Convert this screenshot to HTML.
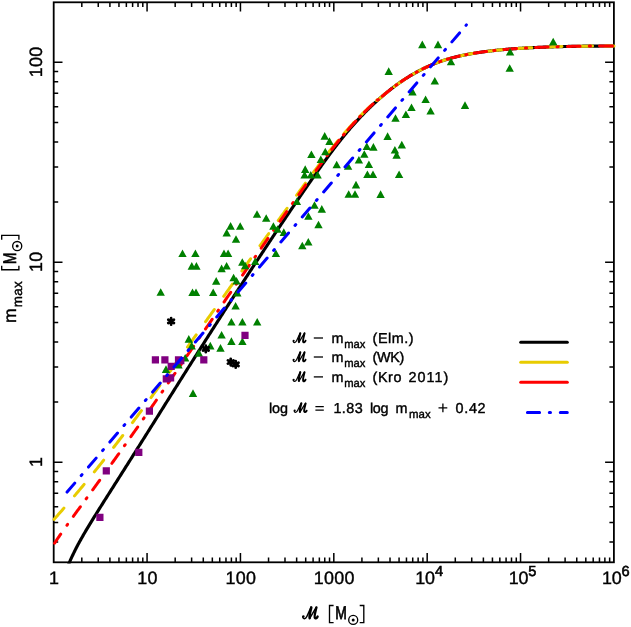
<!DOCTYPE html>
<html><head><meta charset="utf-8"><title>m_max - M_ecl relation</title>
<style>
html,body{margin:0;padding:0;background:#fff;}
body{width:631px;height:627px;overflow:hidden;position:relative;font-family:"Liberation Sans",sans-serif;}
svg{will-change:transform;} text{text-rendering:geometricPrecision;}
</style></head><body>
<svg width="631" height="627" viewBox="0 0 631 627" style="position:absolute;left:0;top:0">
<rect x="0" y="0" width="631" height="627" fill="#fff"/>
<defs><clipPath id="cp"><rect x="52.8" y="1.4" width="562.0" height="562.0"/></clipPath></defs>
<path d="M81.81,562.30 v-4.70 M81.81,2.30 v4.70 M98.25,562.30 v-4.70 M98.25,2.30 v4.70 M109.91,562.30 v-4.70 M109.91,2.30 v4.70 M118.96,562.30 v-4.70 M118.96,2.30 v4.70 M126.36,562.30 v-4.70 M126.36,2.30 v4.70 M132.61,562.30 v-4.70 M132.61,2.30 v4.70 M138.02,562.30 v-4.70 M138.02,2.30 v4.70 M142.80,562.30 v-4.70 M142.80,2.30 v4.70 M147.07,562.30 v-9.30 M147.07,2.30 v9.30 M175.18,562.30 v-4.70 M175.18,2.30 v4.70 M191.62,562.30 v-4.70 M191.62,2.30 v4.70 M203.28,562.30 v-4.70 M203.28,2.30 v4.70 M212.33,562.30 v-4.70 M212.33,2.30 v4.70 M219.73,562.30 v-4.70 M219.73,2.30 v4.70 M225.98,562.30 v-4.70 M225.98,2.30 v4.70 M231.39,562.30 v-4.70 M231.39,2.30 v4.70 M236.17,562.30 v-4.70 M236.17,2.30 v4.70 M240.44,562.30 v-9.30 M240.44,2.30 v9.30 M268.55,562.30 v-4.70 M268.55,2.30 v4.70 M284.99,562.30 v-4.70 M284.99,2.30 v4.70 M296.65,562.30 v-4.70 M296.65,2.30 v4.70 M305.70,562.30 v-4.70 M305.70,2.30 v4.70 M313.10,562.30 v-4.70 M313.10,2.30 v4.70 M319.35,562.30 v-4.70 M319.35,2.30 v4.70 M324.76,562.30 v-4.70 M324.76,2.30 v4.70 M329.54,562.30 v-4.70 M329.54,2.30 v4.70 M333.81,562.30 v-9.30 M333.81,2.30 v9.30 M361.92,562.30 v-4.70 M361.92,2.30 v4.70 M378.36,562.30 v-4.70 M378.36,2.30 v4.70 M390.02,562.30 v-4.70 M390.02,2.30 v4.70 M399.07,562.30 v-4.70 M399.07,2.30 v4.70 M406.47,562.30 v-4.70 M406.47,2.30 v4.70 M412.72,562.30 v-4.70 M412.72,2.30 v4.70 M418.13,562.30 v-4.70 M418.13,2.30 v4.70 M422.91,562.30 v-4.70 M422.91,2.30 v4.70 M427.18,562.30 v-9.30 M427.18,2.30 v9.30 M455.29,562.30 v-4.70 M455.29,2.30 v4.70 M471.73,562.30 v-4.70 M471.73,2.30 v4.70 M483.39,562.30 v-4.70 M483.39,2.30 v4.70 M492.44,562.30 v-4.70 M492.44,2.30 v4.70 M499.84,562.30 v-4.70 M499.84,2.30 v4.70 M506.09,562.30 v-4.70 M506.09,2.30 v4.70 M511.50,562.30 v-4.70 M511.50,2.30 v4.70 M516.28,562.30 v-4.70 M516.28,2.30 v4.70 M520.55,562.30 v-9.30 M520.55,2.30 v9.30 M548.66,562.30 v-4.70 M548.66,2.30 v4.70 M565.10,562.30 v-4.70 M565.10,2.30 v4.70 M576.76,562.30 v-4.70 M576.76,2.30 v4.70 M585.81,562.30 v-4.70 M585.81,2.30 v4.70 M593.21,562.30 v-4.70 M593.21,2.30 v4.70 M599.46,562.30 v-4.70 M599.46,2.30 v4.70 M604.87,562.30 v-4.70 M604.87,2.30 v4.70 M609.65,562.30 v-4.70 M609.65,2.30 v4.70 M53.70,541.89 h4.50 M613.90,541.89 h-4.50 M53.70,522.51 h4.50 M613.90,522.51 h-4.50 M53.70,506.67 h4.50 M613.90,506.67 h-4.50 M53.70,493.28 h4.50 M613.90,493.28 h-4.50 M53.70,481.68 h4.50 M613.90,481.68 h-4.50 M53.70,471.45 h4.50 M613.90,471.45 h-4.50 M53.70,462.30 h8.80 M613.90,462.30 h-8.80 M53.70,402.09 h4.50 M613.90,402.09 h-4.50 M53.70,366.88 h4.50 M613.90,366.88 h-4.50 M53.70,341.89 h4.50 M613.90,341.89 h-4.50 M53.70,322.51 h4.50 M613.90,322.51 h-4.50 M53.70,306.67 h4.50 M613.90,306.67 h-4.50 M53.70,293.28 h4.50 M613.90,293.28 h-4.50 M53.70,281.68 h4.50 M613.90,281.68 h-4.50 M53.70,271.45 h4.50 M613.90,271.45 h-4.50 M53.70,262.30 h8.80 M613.90,262.30 h-8.80 M53.70,202.09 h4.50 M613.90,202.09 h-4.50 M53.70,166.88 h4.50 M613.90,166.88 h-4.50 M53.70,141.89 h4.50 M613.90,141.89 h-4.50 M53.70,122.51 h4.50 M613.90,122.51 h-4.50 M53.70,106.67 h4.50 M613.90,106.67 h-4.50 M53.70,93.28 h4.50 M613.90,93.28 h-4.50 M53.70,81.68 h4.50 M613.90,81.68 h-4.50 M53.70,71.45 h4.50 M613.90,71.45 h-4.50 M53.70,62.30 h8.80 M613.90,62.30 h-8.80" stroke="#000" stroke-width="1.5" fill="none"/>
<rect x="53.70" y="2.30" width="560.20" height="560.00" fill="none" stroke="#000" stroke-width="1.8"/>
<g fill="none" stroke-linecap="round" stroke-linejoin="round">
<path d="M68.00,565.94 L68.46,564.81 L68.91,563.70 L69.37,562.61 L69.82,561.54 L70.28,560.49 L70.73,559.46 L71.19,558.44 L71.64,557.43 L72.10,556.44 L72.55,555.47 L73.01,554.50 L73.46,553.55 L73.92,552.61 L74.38,551.69 L74.83,550.77 L75.29,549.86 L75.74,548.97 L76.20,548.08 L76.65,547.20 L77.11,546.33 L77.56,545.47 L78.02,544.61 L78.47,543.77 L78.93,542.92 L79.38,542.09 L79.84,541.26 L80.30,540.44 L80.75,539.62 L81.21,538.81 L81.66,538.00 L82.12,537.20 L82.57,536.40 L83.03,535.61 L83.48,534.82 L83.94,534.03 L84.39,533.25 L84.85,532.47 L85.30,531.70 L85.76,530.93 L86.22,530.16 L86.67,529.39 L87.13,528.63 L87.58,527.87 L88.04,527.11 L88.49,526.35 L88.95,525.60 L89.40,524.85 L89.86,524.10 L90.31,523.35 L90.77,522.60 L91.22,521.86 L91.68,521.12 L92.14,520.38 L92.59,519.64 L93.05,518.90 L93.50,518.16 L93.96,517.42 L94.41,516.69 L94.87,515.96 L95.32,515.22 L95.78,514.49 L96.23,513.76 L96.69,513.03 L97.14,512.30 L97.60,511.57 L98.06,510.85 L98.51,510.12 L98.97,509.39 L99.42,508.67 L99.88,507.94 L100.33,507.22 L100.79,506.50 L101.24,505.77 L101.70,505.05 L102.15,504.33 L102.61,503.61 L103.06,502.88 L103.52,502.16 L103.97,501.44 L104.43,500.72 L104.89,500.00 L105.34,499.28 L105.80,498.56 L106.25,497.84 L106.71,497.12 L107.16,496.40 L107.62,495.69 L108.07,494.97 L108.53,494.25 L108.98,493.53 L109.44,492.81 L109.89,492.09 L110.35,491.37 L110.81,490.66 L111.26,489.94 L111.72,489.22 L112.17,488.50 L112.63,487.78 L113.08,487.06 L113.54,486.35 L113.99,485.63 L114.45,484.91 L114.90,484.19 L115.36,483.47 L115.81,482.75 L116.27,482.04 L116.73,481.32 L117.18,480.60 L117.64,479.88 L118.09,479.16 L118.55,478.44 L119.00,477.72 L119.46,477.01 L119.91,476.29 L120.37,475.57 L120.82,474.85 L121.28,474.13 L121.73,473.41 L122.19,472.69 L122.65,471.97 L123.10,471.25 L123.56,470.54 L124.01,469.82 L124.47,469.10 L124.92,468.38 L125.38,467.66 L125.83,466.94 L126.29,466.22 L126.74,465.50 L127.20,464.78 L127.65,464.06 L128.11,463.34 L128.57,462.62 L129.02,461.90 L129.48,461.18 L129.93,460.46 L130.39,459.74 L130.84,459.01 L131.30,458.29 L131.75,457.57 L132.21,456.85 L132.66,456.13 L133.12,455.41 L133.57,454.69 L134.03,453.96 L134.49,453.24 L134.94,452.52 L135.40,451.80 L135.85,451.08 L136.31,450.35 L136.76,449.63 L137.22,448.91 L137.67,448.19 L138.13,447.46 L138.58,446.74 L139.04,446.02 L139.49,445.29 L139.95,444.57 L140.41,443.85 L140.86,443.12 L141.32,442.40 L141.77,441.68 L142.23,440.95 L142.68,440.23 L143.14,439.50 L143.59,438.78 L144.05,438.06 L144.50,437.33 L144.96,436.61 L145.41,435.88 L145.87,435.16 L146.33,434.43 L146.78,433.71 L147.24,432.98 L147.69,432.26 L148.15,431.53 L148.60,430.81 L149.06,430.08 L149.51,429.36 L149.97,428.63 L150.42,427.90 L150.88,427.18 L151.33,426.45 L151.79,425.73 L152.25,425.00 L152.70,424.27 L153.16,423.55 L153.61,422.82 L154.07,422.10 L154.52,421.37 L154.98,420.64 L155.43,419.92 L155.89,419.19 L156.34,418.46 L156.80,417.74 L157.25,417.01 L157.71,416.29 L158.17,415.56 L158.62,414.83 L159.08,414.11 L159.53,413.38 L159.99,412.65 L160.44,411.93 L160.90,411.20 L161.35,410.47 L161.81,409.75 L162.26,409.02 L162.72,408.29 L163.17,407.57 L163.63,406.84 L164.09,406.11 L164.54,405.39 L165.00,404.66 L165.45,403.93 L165.91,403.21 L166.36,402.48 L166.82,401.76 L167.27,401.03 L167.73,400.30 L168.18,399.58 L168.64,398.85 L169.09,398.13 L169.55,397.40 L170.01,396.67 L170.46,395.95 L170.92,395.22 L171.37,394.50 L171.83,393.77 L172.28,393.05 L172.74,392.32 L173.19,391.60 L173.65,390.87 L174.10,390.15 L174.56,389.42 L175.01,388.70 L175.47,387.97 L175.92,387.25 L176.38,386.52 L176.84,385.80 L177.29,385.07 L177.75,384.35 L178.20,383.63 L178.66,382.90 L179.11,382.18 L179.57,381.46 L180.02,380.73 L180.48,380.01 L180.93,379.29 L181.39,378.56 L181.84,377.84 L182.30,377.12 L182.76,376.39 L183.21,375.67 L183.67,374.95 L184.12,374.23 L184.58,373.50 L185.03,372.78 L185.49,372.06 L185.94,371.34 L186.40,370.62 L186.85,369.89 L187.31,369.17 L187.76,368.45 L188.22,367.73 L188.68,367.01 L189.13,366.29 L189.59,365.57 L190.04,364.85 L190.50,364.13 L190.95,363.41 L191.41,362.69 L191.86,361.97 L192.32,361.25 L192.77,360.53 L193.23,359.81 L193.68,359.09 L194.14,358.37 L194.60,357.65 L195.05,356.93 L195.51,356.21 L195.96,355.49 L196.42,354.77 L196.87,354.06 L197.33,353.34 L197.78,352.62 L198.24,351.90 L198.69,351.18 L199.15,350.47 L199.60,349.75 L200.06,349.03 L200.52,348.31 L200.97,347.60 L201.43,346.88 L201.88,346.16 L202.34,345.45 L202.79,344.73 L203.25,344.01 L203.70,343.30 L204.16,342.58 L204.61,341.86 L205.07,341.15 L205.52,340.43 L205.98,339.72 L206.44,339.00 L206.89,338.28 L207.35,337.57 L207.80,336.85 L208.26,336.14 L208.71,335.43 L209.17,334.71 L209.62,334.00 L210.08,333.28 L210.53,332.57 L210.99,331.85 L211.44,331.14 L211.90,330.43 L212.36,329.71 L212.81,329.00 L213.27,328.29 L213.72,327.57 L214.18,326.86 L214.63,326.15 L215.09,325.44 L215.54,324.72 L216.00,324.01 L216.45,323.30 L216.91,322.59 L217.36,321.88 L217.82,321.17 L218.28,320.45 L218.73,319.74 L219.19,319.03 L219.64,318.32 L220.10,317.61 L220.55,316.90 L221.01,316.19 L221.46,315.48 L221.92,314.77 L222.37,314.06 L222.83,313.35 L223.28,312.64 L223.74,311.93 L224.20,311.23 L224.65,310.52 L225.11,309.81 L225.56,309.10 L226.02,308.39 L226.47,307.69 L226.93,306.98 L227.38,306.27 L227.84,305.56 L228.29,304.86 L228.75,304.15 L229.20,303.44 L229.66,302.74 L230.12,302.03 L230.57,301.32 L231.03,300.62 L231.48,299.91 L231.94,299.21 L232.39,298.50 L232.85,297.80 L233.30,297.09 L233.76,296.39 L234.21,295.68 L234.67,294.98 L235.12,294.28 L235.58,293.57 L236.04,292.87 L236.49,292.17 L236.95,291.46 L237.40,290.76 L237.86,290.06 L238.31,289.36 L238.77,288.65 L239.22,287.95 L239.68,287.25 L240.13,286.55 L240.59,285.85 L241.04,285.15 L241.50,284.45 L241.95,283.75 L242.41,283.04 L242.87,282.34 L243.32,281.64 L243.78,280.95 L244.23,280.25 L244.69,279.55 L245.14,278.85 L245.60,278.15 L246.05,277.45 L246.51,276.75 L246.96,276.05 L247.42,275.36 L247.87,274.66 L248.33,273.96 L248.79,273.26 L249.24,272.57 L249.70,271.87 L250.15,271.17 L250.61,270.48 L251.06,269.78 L251.52,269.08 L251.97,268.39 L252.43,267.69 L252.88,267.00 L253.34,266.30 L253.79,265.61 L254.25,264.91 L254.71,264.22 L255.16,263.53 L255.62,262.83 L256.07,262.14 L256.53,261.45 L256.98,260.75 L257.44,260.06 L257.89,259.37 L258.35,258.68 L258.80,257.98 L259.26,257.29 L259.71,256.60 L260.17,255.91 L260.63,255.22 L261.08,254.53 L261.54,253.84 L261.99,253.15 L262.45,252.46 L262.90,251.77 L263.36,251.08 L263.81,250.39 L264.27,249.70 L264.72,249.01 L265.18,248.32 L265.63,247.64 L266.09,246.95 L266.55,246.26 L267.00,245.57 L267.46,244.89 L267.91,244.20 L268.37,243.51 L268.82,242.83 L269.28,242.14 L269.73,241.46 L270.19,240.77 L270.64,240.09 L271.10,239.40 L271.55,238.72 L272.01,238.03 L272.47,237.35 L272.92,236.67 L273.38,235.98 L273.83,235.30 L274.29,234.62 L274.74,233.94 L275.20,233.25 L275.65,232.57 L276.11,231.89 L276.56,231.21 L277.02,230.53 L277.47,229.85 L277.93,229.17 L278.39,228.49 L278.84,227.81 L279.30,227.13 L279.75,226.45 L280.21,225.77 L280.66,225.09 L281.12,224.41 L281.57,223.74 L282.03,223.06 L282.48,222.38 L282.94,221.70 L283.39,221.03 L283.85,220.35 L284.31,219.67 L284.76,219.00 L285.22,218.32 L285.67,217.65 L286.13,216.97 L286.58,216.30 L287.04,215.62 L287.49,214.95 L287.95,214.28 L288.40,213.60 L288.86,212.93 L289.31,212.26 L289.77,211.59 L290.23,210.91 L290.68,210.24 L291.14,209.57 L291.59,208.90 L292.05,208.23 L292.50,207.56 L292.96,206.89 L293.41,206.22 L293.87,205.55 L294.32,204.88 L294.78,204.21 L295.23,203.54 L295.69,202.87 L296.15,202.20 L296.60,201.53 L297.06,200.87 L297.51,200.20 L297.97,199.53 L298.42,198.86 L298.88,198.20 L299.33,197.53 L299.79,196.86 L300.24,196.20 L300.70,195.53 L301.15,194.87 L301.61,194.20 L302.07,193.54 L302.52,192.87 L302.98,192.21 L303.43,191.55 L303.89,190.88 L304.34,190.22 L304.80,189.56 L305.25,188.89 L305.71,188.23 L306.16,187.57 L306.62,186.91 L307.07,186.25 L307.53,185.59 L307.98,184.93 L308.44,184.27 L308.90,183.61 L309.35,182.95 L309.81,182.29 L310.26,181.64 L310.72,180.98 L311.17,180.32 L311.63,179.67 L312.08,179.01 L312.54,178.36 L312.99,177.70 L313.45,177.05 L313.90,176.40 L314.36,175.75 L314.82,175.09 L315.27,174.44 L315.73,173.79 L316.18,173.14 L316.64,172.50 L317.09,171.85 L317.55,171.20 L318.00,170.56 L318.46,169.91 L318.91,169.27 L319.37,168.63 L319.82,167.99 L320.28,167.34 L320.74,166.71 L321.19,166.07 L321.65,165.43 L322.10,164.79 L322.56,164.16 L323.01,163.52 L323.47,162.89 L323.92,162.26 L324.38,161.63 L324.83,161.00 L325.29,160.37 L325.74,159.74 L326.20,159.11 L326.66,158.49 L327.11,157.87 L327.57,157.24 L328.02,156.62 L328.48,156.00 L328.93,155.38 L329.39,154.76 L329.84,154.15 L330.30,153.53 L330.75,152.92 L331.21,152.31 L331.66,151.70 L332.12,151.09 L332.58,150.48 L333.03,149.87 L333.49,149.27 L333.94,148.67 L334.40,148.06 L334.85,147.47 L335.31,146.87 L335.76,146.27 L336.22,145.68 L336.67,145.09 L337.13,144.50 L337.58,143.91 L338.04,143.32 L338.50,142.74 L338.95,142.16 L339.41,141.58 L339.86,141.00 L340.32,140.43 L340.77,139.85 L341.23,139.28 L341.68,138.71 L342.14,138.15 L342.59,137.58 L343.05,137.02 L343.50,136.46 L343.96,135.90 L344.42,135.34 L344.87,134.79 L345.33,134.24 L345.78,133.69 L346.24,133.14 L346.69,132.60 L347.15,132.06 L347.60,131.52 L348.06,130.98 L348.51,130.44 L348.97,129.91 L349.42,129.37 L349.88,128.84 L350.34,128.32 L350.79,127.79 L351.25,127.27 L351.70,126.74 L352.16,126.22 L352.61,125.70 L353.07,125.19 L353.52,124.67 L353.98,124.16 L354.43,123.65 L354.89,123.14 L355.34,122.64 L355.80,122.13 L356.26,121.63 L356.71,121.13 L357.17,120.63 L357.62,120.14 L358.08,119.64 L358.53,119.15 L358.99,118.66 L359.44,118.18 L359.90,117.69 L360.35,117.21 L360.81,116.72 L361.26,116.25 L361.72,115.77 L362.18,115.29 L362.63,114.82 L363.09,114.35 L363.54,113.88 L364.00,113.41 L364.45,112.95 L364.91,112.48 L365.36,112.02 L365.82,111.56 L366.27,111.10 L366.73,110.65 L367.18,110.19 L367.64,109.74 L368.10,109.29 L368.55,108.85 L369.01,108.40 L369.46,107.96 L369.92,107.52 L370.37,107.08 L370.83,106.64 L371.28,106.20 L371.74,105.77 L372.19,105.34 L372.65,104.91 L373.10,104.48 L373.56,104.05 L374.02,103.63 L374.47,103.20 L374.93,102.78 L375.38,102.36 L375.84,101.95 L376.29,101.53 L376.75,101.12 L377.20,100.71 L377.66,100.30 L378.11,99.89 L378.57,99.48 L379.02,99.08 L379.48,98.68 L379.93,98.27 L380.39,97.88 L380.85,97.48 L381.30,97.08 L381.76,96.69 L382.21,96.30 L382.67,95.91 L383.12,95.52 L383.58,95.13 L384.03,94.75 L384.49,94.37 L384.94,93.99 L385.40,93.61 L385.85,93.23 L386.31,92.86 L386.77,92.48 L387.22,92.11 L387.68,91.74 L388.13,91.37 L388.59,91.01 L389.04,90.64 L389.50,90.28 L389.95,89.92 L390.41,89.56 L390.86,89.21 L391.32,88.85 L391.77,88.50 L392.23,88.15 L392.69,87.80 L393.14,87.45 L393.60,87.11 L394.05,86.76 L394.51,86.42 L394.96,86.08 L395.42,85.74 L395.87,85.41 L396.33,85.07 L396.78,84.74 L397.24,84.41 L397.69,84.08 L398.15,83.76 L398.61,83.43 L399.06,83.11 L399.52,82.79 L399.97,82.47 L400.43,82.15 L400.88,81.84 L401.34,81.52 L401.79,81.21 L402.25,80.90 L402.70,80.60 L403.16,80.29 L403.61,79.99 L404.07,79.69 L404.53,79.39 L404.98,79.09 L405.44,78.79 L405.89,78.50 L406.35,78.21 L406.80,77.92 L407.26,77.63 L407.71,77.34 L408.17,77.06 L408.62,76.77 L409.08,76.49 L409.53,76.21 L409.99,75.93 L410.45,75.66 L410.90,75.39 L411.36,75.11 L411.81,74.84 L412.27,74.58 L412.72,74.31 L413.18,74.04 L413.63,73.78 L414.09,73.52 L414.54,73.26 L415.00,73.01 L415.45,72.75 L415.91,72.50 L416.37,72.24 L416.82,72.00 L417.28,71.75 L417.73,71.50 L418.19,71.26 L418.64,71.01 L419.10,70.77 L419.55,70.53 L420.01,70.30 L420.46,70.06 L420.92,69.83 L421.37,69.60 L421.83,69.37 L422.29,69.14 L422.74,68.91 L423.20,68.69 L423.65,68.47 L424.11,68.25 L424.56,68.03 L425.02,67.81 L425.47,67.59 L425.93,67.38 L426.38,67.17 L426.84,66.96 L427.29,66.75 L427.75,66.54 L428.21,66.34 L428.66,66.13 L429.12,65.93 L429.57,65.73 L430.03,65.53 L430.48,65.34 L430.94,65.14 L431.39,64.95 L431.85,64.76 L432.30,64.57 L432.76,64.38 L433.21,64.19 L433.67,64.01 L434.13,63.82 L434.58,63.64 L435.04,63.46 L435.49,63.28 L435.95,63.11 L436.40,62.93 L436.86,62.76 L437.31,62.59 L437.77,62.42 L438.22,62.25 L438.68,62.08 L439.13,61.92 L439.59,61.76 L440.05,61.59 L440.50,61.44 L440.96,61.28 L441.41,61.12 L441.87,60.97 L442.32,60.81 L442.78,60.66 L443.23,60.51 L443.69,60.36 L444.14,60.21 L444.60,60.07 L445.05,59.92 L445.51,59.78 L445.96,59.64 L446.42,59.50 L446.88,59.36 L447.33,59.22 L447.79,59.09 L448.24,58.95 L448.70,58.82 L449.15,58.69 L449.61,58.56 L450.06,58.43 L450.52,58.30 L450.97,58.18 L451.43,58.05 L451.88,57.93 L452.34,57.81 L452.80,57.68 L453.25,57.56 L453.71,57.45 L454.16,57.33 L454.62,57.21 L455.07,57.10 L455.53,56.98 L455.98,56.87 L456.44,56.76 L456.89,56.65 L457.35,56.54 L457.80,56.43 L458.26,56.32 L458.72,56.22 L459.17,56.11 L459.63,56.01 L460.08,55.91 L460.54,55.81 L460.99,55.71 L461.45,55.61 L461.90,55.51 L462.36,55.41 L462.81,55.32 L463.27,55.22 L463.72,55.13 L464.18,55.04 L464.64,54.94 L465.09,54.85 L465.55,54.76 L466.00,54.67 L466.46,54.59 L466.91,54.50 L467.37,54.41 L467.82,54.33 L468.28,54.24 L468.73,54.16 L469.19,54.08 L469.64,54.00 L470.10,53.91 L470.56,53.83 L471.01,53.75 L471.47,53.67 L471.92,53.60 L472.38,53.52 L472.83,53.44 L473.29,53.37 L473.74,53.29 L474.20,53.22 L474.65,53.14 L475.11,53.07 L475.56,53.00 L476.02,52.92 L476.48,52.85 L476.93,52.78 L477.39,52.71 L477.84,52.64 L478.30,52.57 L478.75,52.51 L479.21,52.44 L479.66,52.37 L480.12,52.30 L480.57,52.24 L481.03,52.17 L481.48,52.11 L481.94,52.05 L482.40,51.98 L482.85,51.92 L483.31,51.86 L483.76,51.80 L484.22,51.73 L484.67,51.67 L485.13,51.61 L485.58,51.55 L486.04,51.50 L486.49,51.44 L486.95,51.38 L487.40,51.32 L487.86,51.27 L488.32,51.21 L488.77,51.15 L489.23,51.10 L489.68,51.04 L490.14,50.99 L490.59,50.93 L491.05,50.88 L491.50,50.83 L491.96,50.78 L492.41,50.72 L492.87,50.67 L493.32,50.62 L493.78,50.57 L494.24,50.52 L494.69,50.47 L495.15,50.42 L495.60,50.37 L496.06,50.32 L496.51,50.28 L496.97,50.23 L497.42,50.18 L497.88,50.14 L498.33,50.09 L498.79,50.04 L499.24,50.00 L499.70,49.95 L500.16,49.91 L500.61,49.86 L501.07,49.82 L501.52,49.78 L501.98,49.73 L502.43,49.69 L502.89,49.65 L503.34,49.61 L503.80,49.57 L504.25,49.53 L504.71,49.49 L505.16,49.45 L505.62,49.41 L506.08,49.37 L506.53,49.33 L506.99,49.29 L507.44,49.25 L507.90,49.21 L508.35,49.18 L508.81,49.14 L509.26,49.10 L509.72,49.07 L510.17,49.03 L510.63,48.99 L511.08,48.96 L511.54,48.92 L511.99,48.89 L512.45,48.86 L512.91,48.82 L513.36,48.79 L513.82,48.76 L514.27,48.72 L514.73,48.69 L515.18,48.66 L515.64,48.63 L516.09,48.59 L516.55,48.56 L517.00,48.53 L517.46,48.50 L517.91,48.47 L518.37,48.44 L518.83,48.41 L519.28,48.38 L519.74,48.35 L520.19,48.32 L520.65,48.30 L521.10,48.27 L521.56,48.24 L522.01,48.21 L522.47,48.18 L522.92,48.16 L523.38,48.13 L523.83,48.10 L524.29,48.08 L524.75,48.05 L525.20,48.02 L525.66,48.00 L526.11,47.97 L526.57,47.95 L527.02,47.92 L527.48,47.90 L527.93,47.87 L528.39,47.85 L528.84,47.83 L529.30,47.80 L529.75,47.78 L530.21,47.75 L530.67,47.73 L531.12,47.71 L531.58,47.69 L532.03,47.66 L532.49,47.64 L532.94,47.62 L533.40,47.60 L533.85,47.57 L534.31,47.55 L534.76,47.53 L535.22,47.51 L535.67,47.49 L536.13,47.47 L536.59,47.45 L537.04,47.43 L537.50,47.41 L537.95,47.39 L538.41,47.37 L538.86,47.35 L539.32,47.33 L539.77,47.31 L540.23,47.29 L540.68,47.27 L541.14,47.25 L541.59,47.24 L542.05,47.22 L542.51,47.20 L542.96,47.18 L543.42,47.16 L543.87,47.15 L544.33,47.13 L544.78,47.11 L545.24,47.09 L545.69,47.08 L546.15,47.06 L546.60,47.04 L547.06,47.03 L547.51,47.01 L547.97,47.00 L548.43,46.98 L548.88,46.97 L549.34,46.95 L549.79,46.93 L550.25,46.92 L550.70,46.90 L551.16,46.89 L551.61,46.87 L552.07,46.86 L552.52,46.85 L552.98,46.83 L553.43,46.82 L553.89,46.80 L554.35,46.79 L554.80,46.78 L555.26,46.76 L555.71,46.75 L556.17,46.74 L556.62,46.72 L557.08,46.71 L557.53,46.70 L557.99,46.69 L558.44,46.67 L558.90,46.66 L559.35,46.65 L559.81,46.64 L560.27,46.62 L560.72,46.61 L561.18,46.60 L561.63,46.59 L562.09,46.58 L562.54,46.57 L563.00,46.56 L563.45,46.54 L563.91,46.53 L564.36,46.52 L564.82,46.51 L565.27,46.50 L565.73,46.49 L566.19,46.48 L566.64,46.47 L567.10,46.46 L567.55,46.45 L568.01,46.44 L568.46,46.43 L568.92,46.42 L569.37,46.41 L569.83,46.40 L570.28,46.40 L570.74,46.39 L571.19,46.38 L571.65,46.37 L572.11,46.36 L572.56,46.35 L573.02,46.34 L573.47,46.34 L573.93,46.33 L574.38,46.32 L574.84,46.31 L575.29,46.30 L575.75,46.30 L576.20,46.29 L576.66,46.28 L577.11,46.27 L577.57,46.27 L578.03,46.26 L578.48,46.25 L578.94,46.25 L579.39,46.24 L579.85,46.23 L580.30,46.23 L580.76,46.22 L581.21,46.21 L581.67,46.21 L582.12,46.20 L582.58,46.19 L583.03,46.19 L583.49,46.18 L583.94,46.18 L584.40,46.17 L584.86,46.17 L585.31,46.16 L585.77,46.16 L586.22,46.15 L586.68,46.15 L587.13,46.14 L587.59,46.14 L588.04,46.13 L588.50,46.13 L588.95,46.12 L589.41,46.12 L589.86,46.11 L590.32,46.11 L590.78,46.11 L591.23,46.10 L591.69,46.10 L592.14,46.09 L592.60,46.09 L593.05,46.09 L593.51,46.08 L593.96,46.08 L594.42,46.08 L594.87,46.07 L595.33,46.07 L595.78,46.07 L596.24,46.06 L596.70,46.06 L597.15,46.06 L597.61,46.06 L598.06,46.05 L598.52,46.05 L598.97,46.05 L599.43,46.05 L599.88,46.04 L600.34,46.04 L600.79,46.04 L601.25,46.04 L601.70,46.04 L602.16,46.03 L602.62,46.03 L603.07,46.03 L603.53,46.03 L603.98,46.03 L604.44,46.03 L604.89,46.02 L605.35,46.02 L605.80,46.02 L606.26,46.02 L606.71,46.02 L607.17,46.02 L607.62,46.02 L608.08,46.02 L608.54,46.02 L608.99,46.02 L609.45,46.02 L609.90,46.01 L610.36,46.01 L610.81,46.01 L611.27,46.01 L611.72,46.01 L612.18,46.01 L612.63,46.01 L613.09,46.01 L613.54,46.01 L614.00,46.01" stroke="#000" stroke-width="3.15" stroke-linecap="butt" clip-path="url(#cp)"/>
<path d="M54.00,519.39 L54.75,518.55 L55.68,517.50 L56.62,516.45 L57.55,515.39 L58.47,514.34 L59.40,513.29 L60.33,512.24 L61.25,511.19 L62.17,510.14 L63.09,509.08 L63.92,508.13 M74.46,495.89 L74.87,495.41 L75.76,494.36 L76.65,493.31 L77.54,492.26 L78.42,491.21 L79.31,490.15 L80.19,489.10 L81.07,488.05 L81.94,487.00 L82.82,485.95 L83.69,484.90 L84.10,484.40 M94.32,471.89 L94.85,471.23 L95.70,470.17 L96.54,469.12 L97.39,468.07 L98.23,467.02 L99.06,465.97 L99.90,464.92 L100.74,463.86 L101.57,462.81 L102.40,461.76 L103.23,460.71 L103.67,460.16 M113.61,447.42 L113.91,447.04 L114.72,445.99 L115.53,444.93 L116.34,443.88 L117.15,442.83 L117.95,441.78 L118.76,440.73 L119.56,439.68 L120.37,438.62 L121.17,437.57 L121.97,436.52 L122.73,435.52 M132.47,422.62 L133.08,421.80 L133.87,420.75 L134.65,419.70 L135.44,418.64 L136.22,417.59 L137.01,416.54 L137.79,415.49 L138.57,414.44 L139.35,413.39 L140.13,412.33 L140.91,411.28 L141.42,410.59 M150.99,397.58 L151.73,396.56 L152.50,395.51 L153.27,394.46 L154.04,393.40 L154.80,392.35 L155.57,391.30 L156.34,390.25 L157.10,389.20 L157.87,388.15 L158.63,387.09 L159.40,386.04 L159.82,385.45 M169.29,372.36 L170.04,371.32 L170.80,370.27 L171.56,369.22 L172.32,368.17 L173.07,367.11 L173.83,366.06 L174.59,365.01 L175.34,363.96 L176.10,362.91 L176.85,361.86 L177.61,360.80 L178.05,360.19 M187.46,347.06 L188.16,346.08 L188.91,345.03 L189.67,343.98 L190.42,342.93 L191.17,341.87 L191.92,340.82 L192.67,339.77 L193.43,338.72 L194.18,337.67 L194.93,336.62 L195.68,335.56 L196.19,334.85 M205.58,321.71 L206.20,320.84 L206.95,319.79 L207.70,318.74 L208.45,317.69 L209.20,316.64 L209.95,315.58 L210.70,314.53 L211.46,313.48 L212.21,312.43 L212.96,311.38 L213.71,310.33 L214.30,309.50 M223.69,296.36 L224.23,295.60 L224.98,294.55 L225.73,293.50 L226.49,292.45 L227.24,291.40 L227.99,290.34 L228.74,289.29 L229.49,288.24 L230.25,287.19 L231.00,286.14 L231.75,285.09 L232.42,284.16 M241.82,271.02 L242.29,270.36 L243.05,269.31 L243.80,268.26 L244.55,267.21 L245.31,266.16 L246.06,265.11 L246.82,264.05 L247.57,263.00 L248.33,261.95 L249.08,260.90 L249.83,259.85 L250.56,258.83 M259.99,245.72 L260.42,245.12 L261.17,244.07 L261.93,243.02 L262.69,241.97 L263.45,240.92 L264.20,239.87 L264.96,238.82 L265.72,237.76 L266.48,236.71 L267.24,235.66 L268.00,234.61 L268.76,233.56 L268.76,233.55 M278.23,220.46 L278.65,219.89 L279.41,218.83 L280.17,217.78 L280.93,216.73 L281.70,215.68 L282.46,214.63 L283.23,213.58 L283.99,212.52 L284.75,211.47 L285.52,210.42 L286.28,209.37 L287.05,208.32 M296.56,195.27 L297.02,194.65 L297.78,193.59 L298.55,192.54 L299.32,191.49 L300.09,190.44 L300.86,189.39 L301.63,188.34 L302.40,187.29 L303.17,186.23 L303.95,185.18 L304.72,184.13 L305.43,183.17 M313.45,172.32 L314.05,171.51 L314.83,170.46 L315.62,169.41 L316.41,168.36 L317.20,167.30 L317.99,166.25 L318.78,165.20 L319.58,164.15 L320.37,163.10 L321.17,162.05 L321.97,160.99 L322.48,160.34 M328.64,152.35 L329.29,151.53 L330.11,150.48 L330.94,149.43 L331.77,148.37 L332.61,147.32 L333.45,146.27 L334.30,145.22 L335.15,144.17 L336.00,143.12 L336.86,142.07 L337.72,141.01 L338.03,140.65 M344.09,133.48 L344.85,132.60 L345.77,131.55 L346.69,130.50 L347.63,129.45 L348.56,128.39 L349.51,127.34 L350.46,126.29 L351.42,125.24 L352.39,124.19 L353.36,123.14 L354.12,122.32 M359.80,116.39 L360.40,115.77 L361.44,114.72 L362.49,113.67 L363.55,112.62 L364.62,111.57 L365.70,110.52 L366.79,109.46 L367.89,108.41 L369.00,107.36 L370.13,106.31 L370.54,105.92 M376.54,100.51 L377.12,100.00 L377.66,100.30 L378.11,99.89 L378.57,99.48 L379.02,99.08 L379.48,98.68 L379.93,98.27 L380.39,97.88 L380.85,97.48 L381.30,97.08 L381.76,96.69 L382.21,96.30 L382.67,95.91 L383.12,95.52 L383.58,95.13 L384.03,94.75 L384.49,94.37 L384.94,93.99 L385.40,93.61 L385.85,93.23 L386.31,92.86 L386.77,92.48 L387.22,92.11 L387.68,91.74 L388.02,91.47 M394.11,86.71 L394.51,86.42 L394.96,86.08 L395.42,85.74 L395.87,85.41 L396.33,85.07 L396.78,84.74 L397.24,84.41 L397.69,84.08 L398.15,83.76 L398.61,83.43 L399.06,83.11 L399.52,82.79 L399.97,82.47 L400.43,82.15 L400.88,81.84 L401.34,81.52 L401.79,81.21 L402.25,80.90 L402.70,80.60 L403.16,80.29 L403.61,79.99 L404.07,79.69 L404.53,79.39 L404.98,79.09 L405.44,78.79 L405.89,78.50 L406.35,78.21 L406.43,78.15 M413.50,73.86 L413.63,73.78 L414.09,73.52 L414.54,73.26 L415.00,73.01 L415.45,72.75 L415.91,72.50 L416.37,72.24 L416.82,72.00 L417.28,71.75 L417.73,71.50 L418.19,71.26 L418.64,71.01 L419.10,70.77 L419.55,70.53 L420.01,70.30 L420.46,70.06 L420.92,69.83 L421.37,69.60 L421.83,69.37 L422.29,69.14 L422.74,68.91 L423.20,68.69 L423.65,68.47 L424.11,68.25 L424.56,68.03 L425.02,67.81 L425.47,67.59 L425.93,67.38 L426.38,67.17 L426.81,66.97 M435.75,63.19 L435.95,63.11 L436.40,62.93 L436.86,62.76 L437.31,62.59 L437.77,62.42 L438.22,62.25 L438.68,62.08 L439.13,61.92 L439.59,61.76 L440.05,61.59 L440.50,61.44 L440.96,61.28 L441.41,61.12 L441.87,60.97 L442.32,60.81 L442.78,60.66 L443.23,60.51 L443.69,60.36 L444.14,60.21 L444.60,60.07 L445.05,59.92 L445.51,59.78 L445.96,59.64 L446.42,59.50 L446.88,59.36 L447.33,59.22 L447.79,59.09 L448.24,58.95 L448.70,58.82 L449.15,58.69 L449.61,58.56 L449.97,58.46 M460.45,55.83 L460.54,55.81 L460.99,55.71 L461.45,55.61 L461.90,55.51 L462.36,55.41 L462.81,55.32 L463.27,55.22 L463.72,55.13 L464.18,55.04 L464.64,54.94 L465.09,54.85 L465.55,54.76 L466.00,54.67 L466.46,54.59 L466.91,54.50 L467.37,54.41 L467.82,54.33 L468.28,54.24 L468.73,54.16 L469.19,54.08 L469.64,54.00 L470.10,53.91 L470.56,53.83 L471.01,53.75 L471.47,53.67 L471.92,53.60 L472.38,53.52 L472.83,53.44 L473.29,53.37 L473.74,53.29 L474.20,53.22 L474.65,53.14 L475.11,53.07 L475.19,53.06 M487.27,51.34 L487.40,51.32 L487.86,51.27 L488.32,51.21 L488.77,51.15 L489.23,51.10 L489.68,51.04 L490.14,50.99 L490.59,50.93 L491.05,50.88 L491.50,50.83 L491.96,50.78 L492.41,50.72 L492.87,50.67 L493.32,50.62 L493.78,50.57 L494.24,50.52 L494.69,50.47 L495.15,50.42 L495.60,50.37 L496.06,50.32 L496.51,50.28 L496.97,50.23 L497.42,50.18 L497.88,50.14 L498.33,50.09 L498.79,50.04 L499.24,50.00 L499.70,49.95 L500.16,49.91 L500.61,49.86 L501.07,49.82 L501.52,49.78 L501.98,49.73 L502.18,49.72 M516.84,48.54 L517.00,48.53 L517.46,48.50 L517.91,48.47 L518.37,48.44 L518.83,48.41 L519.28,48.38 L519.74,48.35 L520.19,48.32 L520.65,48.30 L521.10,48.27 L521.56,48.24 L522.01,48.21 L522.47,48.18 L522.92,48.16 L523.38,48.13 L523.83,48.10 L524.29,48.08 L524.75,48.05 L525.20,48.02 L525.66,48.00 L526.11,47.97 L526.57,47.95 L527.02,47.92 L527.48,47.90 L527.93,47.87 L528.39,47.85 L528.84,47.83 L529.30,47.80 L529.75,47.78 L530.21,47.75 L530.67,47.73 L531.12,47.71 L531.58,47.69 L531.82,47.67 M546.96,47.03 L547.06,47.03 L547.51,47.01 L547.97,47.00 L548.43,46.98 L548.88,46.97 L549.34,46.95 L549.79,46.93 L550.25,46.92 L550.70,46.90 L551.16,46.89 L551.61,46.87 L552.07,46.86 L552.52,46.85 L552.98,46.83 L553.43,46.82 L553.89,46.80 L554.35,46.79 L554.80,46.78 L555.26,46.76 L555.71,46.75 L556.17,46.74 L556.62,46.72 L557.08,46.71 L557.53,46.70 L557.99,46.69 L558.44,46.67 L558.90,46.66 L559.35,46.65 L559.81,46.64 L560.27,46.62 L560.72,46.61 L561.18,46.60 L561.63,46.59 L561.95,46.58 M577.57,46.27 L577.57,46.27 L578.03,46.26 L578.48,46.25 L578.94,46.25 L579.39,46.24 L579.85,46.23 L580.30,46.23 L580.76,46.22 L581.21,46.21 L581.67,46.21 L582.12,46.20 L582.58,46.19 L583.03,46.19 L583.49,46.18 L583.94,46.18 L584.40,46.17 L584.86,46.17 L585.31,46.16 L585.77,46.16 L586.22,46.15 L586.68,46.15 L587.13,46.14 L587.59,46.14 L588.04,46.13 L588.50,46.13 L588.95,46.12 L589.41,46.12 L589.86,46.11 L590.32,46.11 L590.78,46.11 L591.23,46.10 L591.69,46.10 L592.14,46.09 L592.56,46.09 M608.26,46.02 L608.54,46.02 L608.99,46.02 L609.45,46.02 L609.90,46.01 L610.36,46.01 L610.81,46.01 L611.27,46.01 L611.72,46.01 L612.18,46.01 L612.63,46.01 L613.09,46.01 L613.54,46.01 L614.00,46.01 M605.00,46.02 L605.35,46.02 L605.80,46.02 L606.26,46.02 L606.71,46.02 L607.17,46.02 L607.62,46.02 L608.08,46.02 L608.54,46.02 L608.99,46.02 L609.45,46.02 L609.90,46.01 L610.36,46.01 L610.81,46.01 L611.27,46.01 L611.72,46.01 L612.18,46.01 L612.63,46.01 L613.09,46.01 L613.54,46.01 L614.00,46.01" stroke="#e8cc00" stroke-width="3.0"/>
<path d="M54.55,543.20 L55.28,542.09 L56.02,540.98 L56.77,539.87 L57.51,538.76 L58.27,537.65 L59.03,536.54 L59.79,535.42 L60.55,534.31 L60.71,534.09 M66.90,525.29 L67.60,524.32 L67.60,524.31 M73.38,516.31 L74.01,515.43 L74.82,514.32 L75.63,513.21 L76.44,512.10 L77.25,510.99 L78.06,509.88 L78.87,508.77 L79.68,507.66 L80.32,506.77 M86.15,498.80 L86.17,498.77 L86.86,497.83 M92.68,489.86 L93.47,488.77 L94.28,487.66 L95.09,486.55 L95.90,485.44 L96.71,484.33 L97.52,483.22 L98.32,482.11 L99.13,481.00 L99.62,480.32 M105.41,472.32 L105.57,472.11 L106.11,471.35 M111.88,463.34 L111.97,463.22 L112.76,462.11 L113.56,461.00 L114.36,459.89 L115.15,458.78 L115.95,457.67 L116.74,456.56 L117.54,455.45 L118.33,454.34 L118.75,453.75 M124.48,445.70 L124.66,445.45 L125.17,444.73 M130.88,436.67 L130.95,436.57 L131.73,435.45 L132.52,434.34 L133.30,433.23 L134.08,432.12 L134.86,431.01 L135.64,429.90 L136.43,428.79 L137.21,427.68 L137.67,427.02 M143.33,418.93 L143.43,418.79 L144.02,417.95 M149.67,409.85 L150.40,408.80 L151.18,407.69 L151.95,406.57 L152.72,405.46 L153.49,404.35 L154.26,403.24 L155.04,402.13 L155.81,401.02 L156.40,400.16 M162.02,392.05 L162.71,391.06 M168.32,382.95 L168.88,382.14 L169.65,381.03 L170.42,379.92 L171.18,378.81 L171.95,377.69 L172.72,376.58 L173.48,375.47 L174.25,374.36 L175.02,373.25 L175.03,373.24 M180.63,365.11 L181.14,364.36 L181.31,364.12 M186.91,355.99 L187.27,355.48 L188.03,354.37 L188.80,353.26 L189.56,352.15 L190.32,351.04 L191.09,349.92 L191.85,348.81 L192.62,347.70 L193.38,346.59 L193.60,346.27 M199.19,338.14 L199.49,337.71 L199.87,337.15 M205.46,329.01 L205.60,328.82 L206.36,327.71 L207.12,326.60 L207.89,325.49 L208.65,324.38 L209.41,323.27 L210.18,322.16 L210.94,321.04 L211.70,319.93 L212.15,319.29 M217.74,311.15 L217.81,311.05 L218.42,310.16 M224.01,302.03 L224.68,301.05 L225.45,299.94 L226.21,298.83 L226.97,297.72 L227.74,296.61 L228.50,295.50 L229.27,294.39 L230.03,293.28 L230.70,292.31 M236.30,284.18 L236.92,283.28 L236.98,283.19 M242.58,275.06 L243.05,274.39 L243.81,273.28 L244.58,272.17 L245.35,271.06 L246.11,269.95 L246.88,268.84 L247.65,267.73 L248.42,266.62 L249.18,265.51 L249.29,265.35 M254.91,257.24 L255.33,256.62 L255.59,256.25 M261.22,248.14 L261.50,247.73 L262.27,246.62 L263.04,245.51 L263.81,244.40 L264.59,243.29 L265.36,242.18 L266.13,241.07 L266.91,239.96 L267.68,238.85 L267.96,238.45 M273.61,230.36 L273.88,229.96 L274.29,229.37 M279.96,221.29 L280.11,221.07 L280.89,219.96 L281.67,218.85 L282.45,217.74 L283.23,216.63 L284.01,215.52 L284.79,214.41 L285.57,213.30 L286.35,212.19 L286.74,211.64 M292.44,203.57 L292.63,203.30 L293.13,202.59 M298.84,194.54 L298.92,194.42 L299.71,193.31 L300.50,192.19 L301.29,191.08 L302.08,189.97 L302.87,188.86 L303.66,187.75 L304.45,186.64 L305.25,185.53 L305.68,184.92 M311.43,176.90 L311.62,176.64 L312.13,175.93 M316.04,170.54 L316.45,169.98 L317.26,168.87 L318.07,167.76 L318.89,166.65 L319.70,165.54 L320.52,164.43 L321.34,163.31 L322.17,162.20 L322.99,161.09 L323.04,161.03 M327.04,155.71 L327.16,155.54 L327.76,154.75 M331.82,149.46 L332.27,148.87 L333.13,147.76 L334.00,146.65 L334.88,145.54 L335.75,144.43 L336.64,143.32 L337.53,142.21 L338.42,141.10 L339.16,140.19 M343.41,135.05 L343.94,134.43 L344.19,134.14 M347.85,129.88 L348.72,128.88 L349.70,127.77 L350.69,126.66 L351.69,125.55 L352.69,124.44 L353.70,123.33 L354.72,122.22 L355.75,121.10 L355.82,121.03 M359.68,116.96 L359.97,116.66 L360.52,116.09 M364.47,112.10 L365.47,111.11 L366.60,110.00 L367.75,108.89 L368.90,107.78 L370.07,106.66 L371.26,105.55 L372.45,104.44 L373.15,103.81 M377.32,100.05 L377.38,100.00 L378.11,99.89 L378.40,99.63 M382.35,96.18 L382.67,95.91 L383.12,95.52 L383.58,95.13 L384.03,94.75 L384.49,94.37 L384.94,93.99 L385.40,93.61 L385.85,93.23 L386.31,92.86 L386.77,92.48 L387.22,92.11 L387.68,91.74 L388.13,91.37 L388.59,91.01 L389.04,90.64 L389.50,90.28 L389.95,89.92 L390.41,89.56 L390.86,89.21 L391.32,88.85 L391.73,88.53 M395.92,85.38 L396.33,85.07 L396.78,84.74 L396.88,84.67 M401.25,81.58 L401.34,81.52 L401.79,81.21 L402.25,80.90 L402.70,80.60 L403.16,80.29 L403.61,79.99 L404.07,79.69 L404.53,79.39 L404.98,79.09 L405.44,78.79 L405.89,78.50 L406.35,78.21 L406.80,77.92 L407.26,77.63 L407.71,77.34 L408.17,77.06 L408.62,76.77 L409.08,76.49 L409.53,76.21 L409.99,75.93 L410.45,75.66 L410.90,75.39 L411.36,75.11 L411.53,75.01 M416.17,72.35 L416.37,72.24 L416.82,72.00 L417.23,71.77 M422.71,68.93 L422.74,68.91 L423.20,68.69 L423.65,68.47 L424.11,68.25 L424.56,68.03 L425.02,67.81 L425.47,67.59 L425.93,67.38 L426.38,67.17 L426.84,66.96 L427.29,66.75 L427.75,66.54 L428.21,66.34 L428.66,66.13 L429.12,65.93 L429.57,65.73 L430.03,65.53 L430.48,65.34 L430.94,65.14 L431.39,64.95 L431.85,64.76 L432.30,64.57 L432.76,64.38 L433.21,64.19 L433.67,64.01 L433.96,63.89 M439.73,61.71 L440.05,61.59 L440.50,61.44 L440.87,61.31 M447.23,59.26 L447.33,59.22 L447.79,59.09 L448.24,58.95 L448.70,58.82 L449.15,58.69 L449.61,58.56 L450.06,58.43 L450.52,58.30 L450.97,58.18 L451.43,58.05 L451.88,57.93 L452.34,57.81 L452.80,57.68 L453.25,57.56 L453.71,57.45 L454.16,57.33 L454.62,57.21 L455.07,57.10 L455.53,56.98 L455.98,56.87 L456.44,56.76 L456.89,56.65 L457.35,56.54 L457.80,56.43 L458.26,56.32 L458.72,56.22 L459.17,56.11 L459.27,56.09 M465.81,54.71 L466.00,54.67 L466.46,54.59 L466.91,54.50 L466.99,54.49 M474.13,53.23 L474.20,53.22 L474.65,53.14 L475.11,53.07 L475.56,53.00 L476.02,52.92 L476.48,52.85 L476.93,52.78 L477.39,52.71 L477.84,52.64 L478.30,52.57 L478.75,52.51 L479.21,52.44 L479.66,52.37 L480.12,52.30 L480.57,52.24 L481.03,52.17 L481.48,52.11 L481.94,52.05 L482.40,51.98 L482.85,51.92 L483.31,51.86 L483.76,51.80 L484.22,51.73 L484.67,51.67 L485.13,51.61 L485.58,51.55 L486.04,51.50 L486.49,51.44 L486.60,51.42 M493.80,50.57 L494.24,50.52 L494.69,50.47 L495.00,50.44 M503.91,49.56 L504.25,49.53 L504.71,49.49 L505.16,49.45 L505.62,49.41 L506.08,49.37 L506.53,49.33 L506.99,49.29 L507.44,49.25 L507.90,49.21 L508.35,49.18 L508.81,49.14 L509.26,49.10 L509.72,49.07 L510.17,49.03 L510.63,48.99 L511.08,48.96 L511.54,48.92 L511.99,48.89 L512.45,48.86 L512.91,48.82 L513.36,48.79 L513.82,48.76 L514.27,48.72 L514.73,48.69 L515.18,48.66 L515.64,48.63 L516.09,48.59 L516.47,48.57 M525.40,48.01 L525.66,48.00 L526.11,47.97 L526.57,47.95 L526.60,47.95 M535.50,47.50 L535.67,47.49 L536.13,47.47 L536.59,47.45 L537.04,47.43 L537.50,47.41 L537.95,47.39 L538.41,47.37 L538.86,47.35 L539.32,47.33 L539.77,47.31 L540.23,47.29 L540.68,47.27 L541.14,47.25 L541.59,47.24 L542.05,47.22 L542.51,47.20 L542.96,47.18 L543.42,47.16 L543.87,47.15 L544.33,47.13 L544.78,47.11 L545.24,47.09 L545.69,47.08 L546.15,47.06 L546.60,47.04 L547.06,47.03 L547.51,47.01 L547.97,47.00 L548.09,46.99 M557.00,46.71 L557.08,46.71 L557.53,46.70 L557.99,46.69 L558.20,46.68 M567.45,46.45 L567.55,46.45 L568.01,46.44 L568.46,46.43 L568.92,46.42 L569.37,46.41 L569.83,46.40 L570.28,46.40 L570.74,46.39 L571.19,46.38 L571.65,46.37 L572.11,46.36 L572.56,46.35 L573.02,46.34 L573.47,46.34 L573.93,46.33 L574.38,46.32 L574.84,46.31 L575.29,46.30 L575.75,46.30 L576.20,46.29 L576.66,46.28 L577.11,46.27 L577.57,46.27 L578.03,46.26 L578.48,46.25 L578.94,46.25 L579.39,46.24 L579.85,46.23 L580.05,46.23 M589.30,46.12 L589.41,46.12 L589.86,46.11 L590.32,46.11 L590.50,46.11 M599.50,46.05 L599.88,46.04 L600.34,46.04 L600.79,46.04 L601.25,46.04 L601.70,46.04 L602.16,46.03 L602.62,46.03 L603.07,46.03 L603.53,46.03 L603.98,46.03 L604.44,46.03 L604.89,46.02 L605.35,46.02 L605.80,46.02 L606.26,46.02 L606.71,46.02 L607.17,46.02 L607.62,46.02 L608.08,46.02 L608.54,46.02 L608.99,46.02 L609.45,46.02 L609.90,46.01 L610.36,46.01 L610.81,46.01 L611.27,46.01 L611.72,46.01 L612.18,46.01 L612.50,46.01" stroke="#ff0000" stroke-width="3.0"/>
</g>
<path d="M188.80,335.10 l4.2,7.6 h-8.4z M191.70,341.80 l4.2,7.6 h-8.4z M185.20,353.90 l4.2,7.6 h-8.4z M178.50,360.80 l4.2,7.6 h-8.4z M166.00,365.30 l4.2,7.6 h-8.4z M198.90,349.10 l4.2,7.6 h-8.4z M210.30,341.80 l4.2,7.6 h-8.4z M193.00,389.30 l4.2,7.6 h-8.4z M221.60,331.00 l4.2,7.6 h-8.4z M220.50,344.10 l4.2,7.6 h-8.4z M231.40,337.30 l4.2,7.6 h-8.4z M242.40,337.50 l4.2,7.6 h-8.4z M160.70,288.20 l4.2,7.6 h-8.4z M182.50,249.50 l4.2,7.6 h-8.4z M195.40,249.50 l4.2,7.6 h-8.4z M191.80,262.10 l4.2,7.6 h-8.4z M196.40,262.10 l4.2,7.6 h-8.4z M192.50,288.50 l4.2,7.6 h-8.4z M196.00,288.50 l4.2,7.6 h-8.4z M213.20,288.50 l4.2,7.6 h-8.4z M216.20,277.10 l4.2,7.6 h-8.4z M221.60,264.60 l4.2,7.6 h-8.4z M226.60,262.00 l4.2,7.6 h-8.4z M224.00,249.50 l4.2,7.6 h-8.4z M228.10,249.50 l4.2,7.6 h-8.4z M230.60,222.10 l4.2,7.6 h-8.4z M226.70,228.80 l4.2,7.6 h-8.4z M240.20,222.20 l4.2,7.6 h-8.4z M236.00,235.20 l4.2,7.6 h-8.4z M257.00,210.20 l4.2,7.6 h-8.4z M266.20,214.20 l4.2,7.6 h-8.4z M242.30,258.20 l4.2,7.6 h-8.4z M245.20,261.70 l4.2,7.6 h-8.4z M255.20,257.50 l4.2,7.6 h-8.4z M233.60,273.70 l4.2,7.6 h-8.4z M236.50,276.90 l4.2,7.6 h-8.4z M237.30,288.80 l4.2,7.6 h-8.4z M235.60,301.90 l4.2,7.6 h-8.4z M231.40,318.00 l4.2,7.6 h-8.4z M242.40,318.00 l4.2,7.6 h-8.4z M257.20,318.00 l4.2,7.6 h-8.4z M273.40,222.20 l4.2,7.6 h-8.4z M277.50,225.20 l4.2,7.6 h-8.4z M283.80,228.30 l4.2,7.6 h-8.4z M308.30,238.00 l4.2,7.6 h-8.4z M296.90,197.40 l4.2,7.6 h-8.4z M314.50,201.20 l4.2,7.6 h-8.4z M321.80,205.10 l4.2,7.6 h-8.4z M308.40,212.20 l4.2,7.6 h-8.4z M318.50,220.70 l4.2,7.6 h-8.4z M305.20,165.30 l4.2,7.6 h-8.4z M304.60,170.90 l4.2,7.6 h-8.4z M310.80,170.90 l4.2,7.6 h-8.4z M317.60,170.90 l4.2,7.6 h-8.4z M311.40,150.40 l4.2,7.6 h-8.4z M320.80,155.50 l4.2,7.6 h-8.4z M325.30,147.70 l4.2,7.6 h-8.4z M324.70,132.10 l4.2,7.6 h-8.4z M329.50,137.30 l4.2,7.6 h-8.4z M336.70,160.70 l4.2,7.6 h-8.4z M348.10,162.20 l4.2,7.6 h-8.4z M358.90,156.00 l4.2,7.6 h-8.4z M364.30,150.20 l4.2,7.6 h-8.4z M366.80,142.50 l4.2,7.6 h-8.4z M373.40,143.10 l4.2,7.6 h-8.4z M368.90,160.50 l4.2,7.6 h-8.4z M367.40,170.50 l4.2,7.6 h-8.4z M373.00,170.50 l4.2,7.6 h-8.4z M356.00,180.80 l4.2,7.6 h-8.4z M348.70,190.20 l4.2,7.6 h-8.4z M355.00,190.20 l4.2,7.6 h-8.4z M380.60,190.30 l4.2,7.6 h-8.4z M387.60,132.30 l4.2,7.6 h-8.4z M302.30,241.70 l4.2,7.6 h-8.4z M275.90,249.40 l4.2,7.6 h-8.4z M388.70,67.30 l4.2,7.6 h-8.4z M422.30,40.60 l4.2,7.6 h-8.4z M438.00,40.60 l4.2,7.6 h-8.4z M451.00,57.70 l4.2,7.6 h-8.4z M434.80,77.00 l4.2,7.6 h-8.4z M412.50,87.80 l4.2,7.6 h-8.4z M425.60,95.50 l4.2,7.6 h-8.4z M411.50,103.40 l4.2,7.6 h-8.4z M430.60,107.00 l4.2,7.6 h-8.4z M405.90,110.40 l4.2,7.6 h-8.4z M395.50,114.20 l4.2,7.6 h-8.4z M465.00,101.30 l4.2,7.6 h-8.4z M510.10,48.00 l4.2,7.6 h-8.4z M509.70,64.20 l4.2,7.6 h-8.4z M553.20,37.70 l4.2,7.6 h-8.4z M401.80,140.80 l4.2,7.6 h-8.4z M394.90,146.00 l4.2,7.6 h-8.4z M396.60,151.10 l4.2,7.6 h-8.4z M399.10,170.40 l4.2,7.6 h-8.4z" fill="#008000"/>
<path d="M96.30,513.70 h7.2 v7.2 h-7.2z M102.70,467.30 h7.2 v7.2 h-7.2z M135.20,448.80 h7.2 v7.2 h-7.2z M145.80,407.60 h7.2 v7.2 h-7.2z M151.80,356.30 h7.2 v7.2 h-7.2z M161.30,356.30 h7.2 v7.2 h-7.2z M167.60,362.70 h7.2 v7.2 h-7.2z M174.90,356.30 h7.2 v7.2 h-7.2z M177.20,357.00 h7.2 v7.2 h-7.2z M162.70,375.20 h7.2 v7.2 h-7.2z M167.00,374.20 h7.2 v7.2 h-7.2z M200.20,356.30 h7.2 v7.2 h-7.2z M241.40,331.80 h7.2 v7.2 h-7.2z" fill="#800080"/>
<path d="M171.10,318.15 v6.50 M168.29,319.77 l5.63,3.25 M168.29,323.02 l5.63,-3.25 M205.80,345.65 v6.50 M202.99,347.27 l5.63,3.25 M202.99,350.52 l5.63,-3.25 M230.70,358.75 v6.50 M227.89,360.38 l5.63,3.25 M227.89,363.62 l5.63,-3.25 M235.70,361.15 v6.50 M232.89,362.77 l5.63,3.25 M232.89,366.02 l5.63,-3.25" stroke="#000" stroke-width="2.75" stroke-linecap="round" fill="none"/>
<path d="M67.10,492.09 L74.76,483.12 M81.23,475.55 L82.01,474.64 M88.47,467.08 L96.14,458.11 M102.61,450.54 L103.39,449.63 M109.85,442.06 L117.52,433.09 M123.98,425.53 L124.76,424.62 M131.23,417.05 L138.89,408.08 M145.36,400.52 L146.14,399.61 M152.60,392.04 L160.27,383.07 M166.74,375.51 L167.52,374.60 M173.98,367.03 L181.65,358.06 M188.11,350.50 L188.89,349.59 M195.36,342.02 L203.02,333.05 M209.49,325.49 L210.27,324.57 M216.73,317.01 L224.40,308.04 M230.87,300.48 L231.65,299.56 M238.11,292.00 L245.78,283.03 M252.24,275.47 L253.02,274.55 M259.49,266.99 L267.15,258.02 M273.62,250.45 L274.40,249.54 M280.86,241.98 L288.53,233.01 M295.00,225.44 L295.78,224.53 M302.24,216.97 L309.91,208.00 M316.37,200.43 L317.15,199.52 M323.62,191.96 L331.29,182.99 M337.75,175.42 L338.53,174.51 M345.00,166.94 L352.66,157.97 M359.13,150.41 L359.91,149.50 M366.37,141.93 L374.04,132.96 M380.50,125.40 L381.28,124.49 M387.75,116.92 L395.42,107.95 M401.88,100.39 L402.66,99.48 M409.13,91.91 L416.79,82.94 M423.26,75.38 L424.04,74.47 M430.50,66.90 L438.17,57.93 M444.63,50.37 L445.41,49.45 M451.88,41.89 L459.55,32.92 M466.01,25.36 L466.40,24.90" stroke="#0000ff" stroke-width="3.0" stroke-linecap="round" fill="none"/>
<path d="M520.7,342.2 H567.3" stroke="#000" stroke-width="3.0" stroke-linecap="round"/>
<path d="M520.7,362.3 H567.3" stroke="#e8cc00" stroke-width="3.0" stroke-linecap="round"/>
<path d="M520.7,382.3 H567.3" stroke="#ff0000" stroke-width="3.0" stroke-linecap="round"/>
<path d="M527.4,412.4 H539.6 M549.3,412.4 H550.5 M560.3,412.4 H567.3" stroke="#0000ff" stroke-width="3.0" stroke-linecap="round"/>
<text x="54.20" y="584.30" font-family="Liberation Sans, sans-serif" font-size="17.90" stroke="#000" stroke-width="0.40" text-anchor="middle" letter-spacing="0.35">1</text>
<text x="147.57" y="584.30" font-family="Liberation Sans, sans-serif" font-size="17.90" stroke="#000" stroke-width="0.40" text-anchor="middle" letter-spacing="0.35">10</text>
<text x="240.94" y="584.30" font-family="Liberation Sans, sans-serif" font-size="17.90" stroke="#000" stroke-width="0.40" text-anchor="middle" letter-spacing="0.35">100</text>
<text x="334.31" y="584.30" font-family="Liberation Sans, sans-serif" font-size="17.90" stroke="#000" stroke-width="0.40" text-anchor="middle" letter-spacing="0.35">1000</text>
<text x="434.68" y="584.30" font-family="Liberation Sans, sans-serif" font-size="17.90" stroke="#000" stroke-width="0.40" text-anchor="end" letter-spacing="-0.3">10</text>
<text x="434.88" y="575.80" font-family="Liberation Sans, sans-serif" font-size="14.60" stroke="#000" stroke-width="0.60" >4</text>
<text x="528.05" y="584.30" font-family="Liberation Sans, sans-serif" font-size="17.90" stroke="#000" stroke-width="0.40" text-anchor="end" letter-spacing="-0.3">10</text>
<text x="528.25" y="575.80" font-family="Liberation Sans, sans-serif" font-size="14.60" stroke="#000" stroke-width="0.60" >5</text>
<text x="621.42" y="584.30" font-family="Liberation Sans, sans-serif" font-size="17.90" stroke="#000" stroke-width="0.40" text-anchor="end" letter-spacing="-0.3">10</text>
<text x="621.62" y="575.80" font-family="Liberation Sans, sans-serif" font-size="14.60" stroke="#000" stroke-width="0.60" >6</text>
<g transform="translate(41.9,461.80) rotate(-90)"><text x="0.00" y="0.00" font-family="Liberation Sans, sans-serif" font-size="17.90" stroke="#000" stroke-width="0.40" text-anchor="middle" letter-spacing="0.35">1</text></g>
<g transform="translate(41.9,261.80) rotate(-90)"><text x="0.00" y="0.00" font-family="Liberation Sans, sans-serif" font-size="17.90" stroke="#000" stroke-width="0.40" text-anchor="middle" letter-spacing="0.35">10</text></g>
<g transform="translate(41.9,61.80) rotate(-90)"><text x="0.00" y="0.00" font-family="Liberation Sans, sans-serif" font-size="17.90" stroke="#000" stroke-width="0.40" text-anchor="middle" letter-spacing="0.35">100</text></g>
<g transform="translate(301.70,606.20) scale(0.1660,0.1663)" fill="none" stroke="#000" stroke-linecap="round" stroke-linejoin="round"><circle cx="10" cy="62" r="7.5" fill="#000" stroke="none"/><path d="M7,64 C6,77 22,81 31,62 L56,7" stroke-width="9.0"/><path d="M58,7 C53,30 44,56 48,72" stroke-width="15.0"/><path d="M50,70 L87,7" stroke-width="9.0"/><path d="M89,7 C84,30 74,60 79,70 C83,78 92,72 96,62" stroke-width="14.0"/></g>
<path d="M333.60,605.50 H329.50 V622.60 H333.60" fill="none" stroke="#000" stroke-width="1.35"/>
<text x="335.30" y="619.10" font-family="Liberation Sans, sans-serif" font-size="18.20" stroke="#000" stroke-width="0.75" textLength="11.60" lengthAdjust="spacingAndGlyphs" >M</text>
<circle cx="353.20" cy="619.90" r="4.50" fill="none" stroke="#000" stroke-width="1.35"/><circle cx="353.20" cy="619.90" r="1.50" fill="#000"/>
<path d="M359.70,605.50 H363.80 V622.60 H359.70" fill="none" stroke="#000" stroke-width="1.35"/>
<g transform="translate(15.8,322.9) rotate(-90)">
<text x="0.00" y="0.00" font-family="Liberation Sans, sans-serif" font-size="17.60" stroke="#000" stroke-width="0.40" >m</text>
<text x="15.70" y="6.60" font-family="Liberation Sans, sans-serif" font-size="13.40" stroke="#000" stroke-width="0.40" textLength="25.90" lengthAdjust="spacing" >max</text>
<path d="M57.20,-14.10 H53.10 V3.10 H57.20" fill="none" stroke="#000" stroke-width="1.35"/>
<text x="59.00" y="0.00" font-family="Liberation Sans, sans-serif" font-size="18.20" stroke="#000" stroke-width="0.75" textLength="11.40" lengthAdjust="spacingAndGlyphs" >M</text>
<circle cx="76.90" cy="1.40" r="4.55" fill="none" stroke="#000" stroke-width="1.35"/><circle cx="76.90" cy="1.40" r="1.50" fill="#000"/>
<path d="M83.10,-14.10 H87.50 V3.10 H83.10" fill="none" stroke="#000" stroke-width="1.35"/>
</g>
<g transform="translate(292.30,332.30) scale(0.1380,0.1363)" fill="none" stroke="#000" stroke-linecap="round" stroke-linejoin="round"><circle cx="10" cy="62" r="7.5" fill="#000" stroke="none"/><path d="M7,64 C6,77 22,81 31,62 L56,7" stroke-width="9.0"/><path d="M58,7 C53,30 44,56 48,72" stroke-width="15.0"/><path d="M50,70 L87,7" stroke-width="9.0"/><path d="M89,7 C84,30 74,60 79,70 C83,78 92,72 96,62" stroke-width="14.0"/></g><path d="M313.8,338.00 H323.0" stroke="#000" stroke-width="1.3"/><text x="331.50" y="343.10" font-family="Liberation Sans, sans-serif" font-size="14.40" stroke="#000" stroke-width="0.40" >m</text><text x="344.20" y="348.10" font-family="Liberation Sans, sans-serif" font-size="11.60" stroke="#000" stroke-width="0.40" textLength="21.20" lengthAdjust="spacingAndGlyphs" >max</text><text x="372.60" y="343.10" font-family="Liberation Sans, sans-serif" font-size="14.40" stroke="#000" stroke-width="0.40" textLength="41.00" lengthAdjust="spacing" >(Elm.)</text>
<g transform="translate(292.30,351.30) scale(0.1380,0.1363)" fill="none" stroke="#000" stroke-linecap="round" stroke-linejoin="round"><circle cx="10" cy="62" r="7.5" fill="#000" stroke="none"/><path d="M7,64 C6,77 22,81 31,62 L56,7" stroke-width="9.0"/><path d="M58,7 C53,30 44,56 48,72" stroke-width="15.0"/><path d="M50,70 L87,7" stroke-width="9.0"/><path d="M89,7 C84,30 74,60 79,70 C83,78 92,72 96,62" stroke-width="14.0"/></g><path d="M313.8,357.00 H323.0" stroke="#000" stroke-width="1.3"/><text x="331.50" y="362.10" font-family="Liberation Sans, sans-serif" font-size="14.40" stroke="#000" stroke-width="0.40" >m</text><text x="344.20" y="367.10" font-family="Liberation Sans, sans-serif" font-size="11.60" stroke="#000" stroke-width="0.40" textLength="21.20" lengthAdjust="spacingAndGlyphs" >max</text><text x="372.60" y="362.10" font-family="Liberation Sans, sans-serif" font-size="14.40" stroke="#000" stroke-width="0.40" textLength="31.70" lengthAdjust="spacing" >(WK)</text>
<g transform="translate(292.30,371.20) scale(0.1380,0.1363)" fill="none" stroke="#000" stroke-linecap="round" stroke-linejoin="round"><circle cx="10" cy="62" r="7.5" fill="#000" stroke="none"/><path d="M7,64 C6,77 22,81 31,62 L56,7" stroke-width="9.0"/><path d="M58,7 C53,30 44,56 48,72" stroke-width="15.0"/><path d="M50,70 L87,7" stroke-width="9.0"/><path d="M89,7 C84,30 74,60 79,70 C83,78 92,72 96,62" stroke-width="14.0"/></g><path d="M313.8,376.90 H323.0" stroke="#000" stroke-width="1.3"/><text x="331.50" y="382.00" font-family="Liberation Sans, sans-serif" font-size="14.40" stroke="#000" stroke-width="0.40" >m</text><text x="344.20" y="387.00" font-family="Liberation Sans, sans-serif" font-size="11.60" stroke="#000" stroke-width="0.40" textLength="21.20" lengthAdjust="spacingAndGlyphs" >max</text><text x="372.60" y="382.00" font-family="Liberation Sans, sans-serif" font-size="14.40" stroke="#000" stroke-width="0.40" textLength="28.80" lengthAdjust="spacing" >(Kro</text><text x="408.50" y="382.00" font-family="Liberation Sans, sans-serif" font-size="14.40" stroke="#000" stroke-width="0.40" textLength="39.90" lengthAdjust="spacing" >2011)</text>
<text x="268.90" y="412.70" font-family="Liberation Sans, sans-serif" font-size="14.40" stroke="#000" stroke-width="0.40" textLength="19.00" lengthAdjust="spacing" >log</text>
<g transform="translate(293.30,402.40) scale(0.1390,0.1325)" fill="none" stroke="#000" stroke-linecap="round" stroke-linejoin="round"><circle cx="10" cy="62" r="7.5" fill="#000" stroke="none"/><path d="M7,64 C6,77 22,81 31,62 L56,7" stroke-width="9.0"/><path d="M58,7 C53,30 44,56 48,72" stroke-width="15.0"/><path d="M50,70 L87,7" stroke-width="9.0"/><path d="M89,7 C84,30 74,60 79,70 C83,78 92,72 96,62" stroke-width="14.0"/></g>
<path d="M315.4,406.60 H323.8 M315.4,410.20 H323.8" stroke="#000" stroke-width="1.3"/>
<text x="333.40" y="412.70" font-family="Liberation Sans, sans-serif" font-size="14.40" stroke="#000" stroke-width="0.40" textLength="29.40" lengthAdjust="spacing" >1.83</text>
<text x="370.00" y="412.70" font-family="Liberation Sans, sans-serif" font-size="14.40" stroke="#000" stroke-width="0.40" textLength="18.40" lengthAdjust="spacing" >log</text>
<text x="395.60" y="412.70" font-family="Liberation Sans, sans-serif" font-size="14.40" stroke="#000" stroke-width="0.40" >m</text>
<text x="409.00" y="417.70" font-family="Liberation Sans, sans-serif" font-size="11.60" stroke="#000" stroke-width="0.40" textLength="21.60" lengthAdjust="spacingAndGlyphs" >max</text>
<path d="M438.5,407.80 H447.3 M442.9,403.40 V412.20" stroke="#000" stroke-width="1.3"/>
<text x="455.60" y="412.70" font-family="Liberation Sans, sans-serif" font-size="14.40" stroke="#000" stroke-width="0.40" textLength="30.00" lengthAdjust="spacing" >0.42</text>
</svg>
</body></html>
